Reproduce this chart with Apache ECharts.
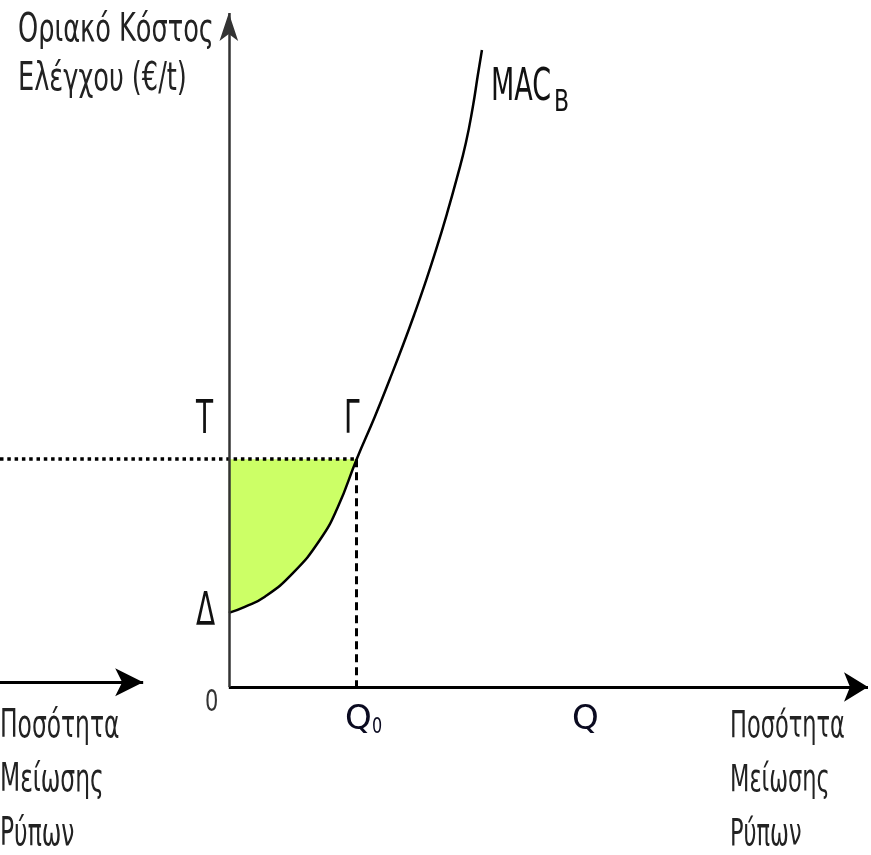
<!DOCTYPE html>
<html>
<head>
<meta charset="utf-8">
<script src="https://cdn.jsdelivr.net/npm/echarts@6/dist/echarts.min.js"></script>
<style>
  html, body { margin: 0; padding: 0; background: #fff; }
  #chart { width: 871px; height: 855px; }
</style>
</head>
<body>
<div id="chart"></div>
<script>
  // MAC_B curve (x = abatement, y = marginal cost)
  const curveX = [0, 0.125, 0.282, 0.501, 0.712, 0.853, 1.0, 1.142, 1.26, 1.362, 1.455, 1.534, 1.62, 1.706, 1.784, 1.854, 1.909, 1.948, 1.98]
  const curveY = [1.1, 1.19, 1.34, 1.69, 2.18, 2.67, 3.38, 4.01, 4.57, 5.07, 5.55, 5.98, 6.48, 7.02, 7.55, 8.07, 8.61, 9.08, 9.45]
  // point Γ
  const q0 = 1.0
  const tLevel = 3.38
  // axis ranges
  const xMin = -1.79
  const xMax = 5
  const yMax = 10
  // little arrow on the left
  const leftArrowEnd = -0.67
  const leftArrowY = 0.07

  const curve = curveX.map((x, i) => [x, curveY[i]])
  const shaded = curve.filter((p) => p[0] <= q0)

  const chart = echarts.init(document.getElementById('chart'))

  const greekFont = '"Liberation Sans Narrow", "DejaVu Sans Condensed", sans-serif'
  const labelFont = '"DejaVu Sans", sans-serif'

  const options = {
    animation: false,
    grid: {
      top: 13,
      bottom: 168,
      left: 0,
      right: 3,
    },
    xAxis: {
      type: 'value',
      min: xMin,
      max: xMax,
      show: false,
    },
    yAxis: {
      type: 'value',
      min: 0,
      max: yMax,
      show: false,
    },
    series: [
      // green area between T and the curve
      {
        type: 'line',
        data: shaded,
        smooth: 0.5,
        showSymbol: false,
        lineStyle: { width: 0 },
        areaStyle: { color: '#ccff66', opacity: 1, origin: tLevel },
        z: 1,
      },
      // axes and guide lines
      {
        type: 'line',
        data: [],
        z: 3,
        markLine: {
          silent: true,
          symbol: ['none', 'none'],
          label: { show: false },
          data: [
            // dotted T line
            [
              { coord: [xMin, tLevel], lineStyle: { color: '#000', width: 3.5, type: [3.5, 3.8] } },
              { coord: [q0, tLevel] },
            ],
            // dashed Q0 line
            [
              { coord: [q0, tLevel], lineStyle: { color: '#000', width: 3, type: [8, 5] } },
              { coord: [q0, 0] },
            ],
            // x axis
            [
              { coord: [0, 0], symbol: 'none', lineStyle: { color: '#000', width: 3, type: 'solid' } },
              { coord: [xMax, 0], symbol: 'arrow', symbolSize: [22, 24] },
            ],
            // y axis
            [
              { coord: [0, 0], symbol: 'none', lineStyle: { color: '#333', width: 2.5, type: 'solid' } },
              { coord: [0, yMax], symbol: 'arrow', symbolSize: [14, 28] },
            ],
            // left arrow
            [
              { coord: [xMin, leftArrowY], symbol: 'none', lineStyle: { color: '#000', width: 3, type: 'solid' } },
              { coord: [leftArrowEnd, leftArrowY], symbol: 'arrow', symbolSize: [21, 28] },
            ],
          ],
        },
      },
      // MAC_B curve
      {
        type: 'line',
        data: curve,
        smooth: 0.5,
        showSymbol: false,
        lineStyle: { color: '#000', width: 2.5 },
        z: 4,
      },
    ],
    graphic: [
      {
        type: 'text',
        x: 18,
        y: 6,
        scaleY: 1.4,
        style: {
          text: 'Οριακό Κόστος\nΕλέγχου (€/t)',
          font: '28.5px ' + greekFont,
          lineHeight: 35,
          fill: '#222',
          verticalAlign: 'top',
        },
      },
      {
        type: 'text',
        x: 0,
        y: 700,
        scaleY: 1.5,
        style: {
          text: 'Ποσότητα\nΜείωσης\nΡύπων',
          font: '26px ' + greekFont,
          lineHeight: 36,
          fill: '#222',
          verticalAlign: 'top',
        },
      },
      {
        type: 'text',
        x: 730,
        y: 700,
        scaleY: 1.5,
        style: {
          text: 'Ποσότητα\nΜείωσης\nΡύπων',
          font: '25px ' + greekFont,
          lineHeight: 36,
          fill: '#222',
          verticalAlign: 'top',
        },
      },
      {
        type: 'text',
        x: 491,
        y: 66,
        scaleY: 1.65,
        style: { text: 'MAC', font: '27px ' + labelFont, fill: '#111', verticalAlign: 'top' },
      },
      {
        type: 'text',
        x: 554,
        y: 88,
        scaleY: 1.35,
        style: { text: 'B', font: '22px ' + labelFont, fill: '#111', verticalAlign: 'top' },
      },
      {
        type: 'text',
        x: 196,
        y: 398,
        scaleY: 1.65,
        style: { text: 'T', font: '28px ' + labelFont, fill: '#111', verticalAlign: 'top' },
      },
      {
        type: 'text',
        x: 344,
        y: 398,
        scaleY: 1.65,
        style: { text: 'Γ', font: '28px ' + labelFont, fill: '#111', verticalAlign: 'top' },
      },
      {
        type: 'text',
        x: 196,
        y: 590,
        scaleY: 1.65,
        style: { text: 'Δ', font: '28px ' + labelFont, fill: '#111', verticalAlign: 'top' },
      },
      {
        type: 'text',
        x: 205,
        y: 689,
        scaleY: 1.4,
        style: { text: '0', font: '21px ' + labelFont, fill: '#333', verticalAlign: 'top' },
      },
      {
        type: 'text',
        x: 345,
        y: 703,
        style: { text: 'Q', font: '34px ' + labelFont, fill: '#0a0a20', verticalAlign: 'top' },
      },
      {
        type: 'text',
        x: 372,
        y: 717,
        scaleY: 1.3,
        style: { text: '0', font: '16px ' + labelFont, fill: '#0a0a20', verticalAlign: 'top' },
      },
      {
        type: 'text',
        x: 572,
        y: 703,
        style: { text: 'Q', font: '34px ' + labelFont, fill: '#0a0a20', verticalAlign: 'top' },
      },
    ],
  }

  chart.setOption(options)
</script>
</body>
</html>
